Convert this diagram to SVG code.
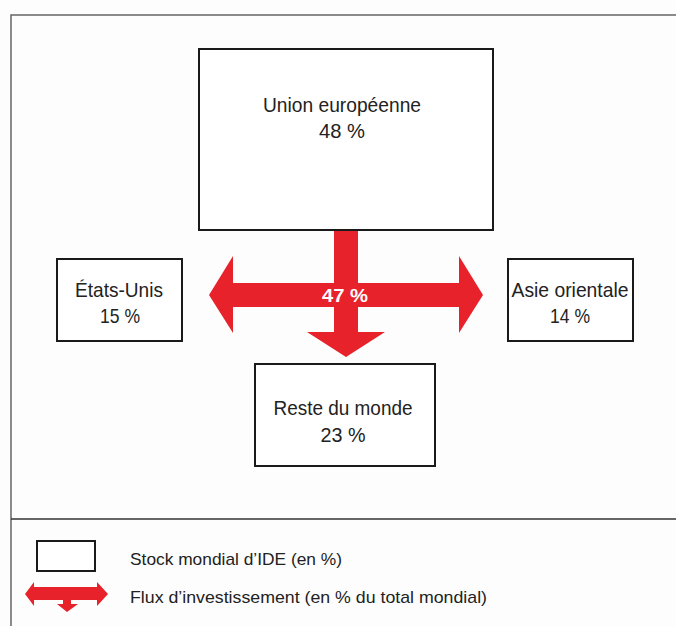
<svg xmlns="http://www.w3.org/2000/svg" width="676" height="626" viewBox="0 0 676 626">
<style>
.box{fill:#fff;stroke:#1a1a1a;stroke-width:2}
.lbl{font-family:"Liberation Sans Narrow","Liberation Sans",Arial,sans-serif;font-size:21px;fill:#222;text-anchor:middle}
.leg{font-family:"Liberation Sans Narrow","Liberation Sans",Arial,sans-serif;font-size:17px;fill:#222}
.flow{fill:#e8222a}
.frame{stroke:#666;stroke-width:1.5;fill:none}
</style>
<rect width="676" height="626" fill="#fdfdfd"/>
<g id="frame">
<path class="frame" d="M11,626 V15 H676"/>
<line x1="11" y1="519" x2="676" y2="519" stroke="#333" stroke-width="1.5"/>
</g>
<g id="connectors">
<polygon class="flow" points="334,230 358,230 358,283 459,283 459,256 483,295 459,333 459,307 358,307 358,332 385,332 346,357 307,332 334,332 334,307 233,307 233,333 209,295 233,256 233,283 334,283"/>
<text x="345" y="302" font-family="'Liberation Sans Narrow','Liberation Sans',Arial,sans-serif" font-size="19" font-weight="bold" fill="#fff" text-anchor="middle" textLength="46" lengthAdjust="spacingAndGlyphs">47 %</text>
</g>
<g id="union-europeenne">
<rect class="box" x="199" y="49" width="294" height="181"/>
<text class="lbl" x="342" y="112" textLength="158" lengthAdjust="spacingAndGlyphs">Union européenne</text>
<text class="lbl" x="342" y="138" textLength="46" lengthAdjust="spacingAndGlyphs">48 %</text>
</g>
<g id="etats-unis">
<rect class="box" x="57" y="259" width="125" height="82"/>
<text class="lbl" x="119" y="297" textLength="88" lengthAdjust="spacingAndGlyphs">États-Unis</text>
<text class="lbl" x="120" y="323" textLength="40" lengthAdjust="spacingAndGlyphs">15 %</text>
</g>
<g id="asie-orientale">
<rect class="box" x="508" y="259" width="125" height="82"/>
<text class="lbl" x="570" y="297" textLength="117" lengthAdjust="spacingAndGlyphs">Asie orientale</text>
<text class="lbl" x="570" y="323" textLength="40" lengthAdjust="spacingAndGlyphs">14 %</text>
</g>
<g id="reste-du-monde">
<rect class="box" x="255" y="364" width="180" height="102"/>
<text class="lbl" x="343" y="415" textLength="139" lengthAdjust="spacingAndGlyphs">Reste du monde</text>
<text class="lbl" x="343" y="442" textLength="45" lengthAdjust="spacingAndGlyphs">23 %</text>
</g>
<g id="legend">
<rect class="box" x="37" y="541" width="58" height="30"/>
<text class="leg" x="130" y="565" textLength="212" lengthAdjust="spacingAndGlyphs">Stock mondial d’IDE (en %)</text>
<polygon class="flow" points="25,594 34,582 34,587 97,587 97,582 108,594 97,606 97,600 71,600 71,604 78,604 67,612 57,604 63,604 63,600 34,600 34,606"/>
<text class="leg" x="130" y="603" textLength="357" lengthAdjust="spacingAndGlyphs">Flux d’investissement (en % du total mondial)</text>
</g>
</svg>
